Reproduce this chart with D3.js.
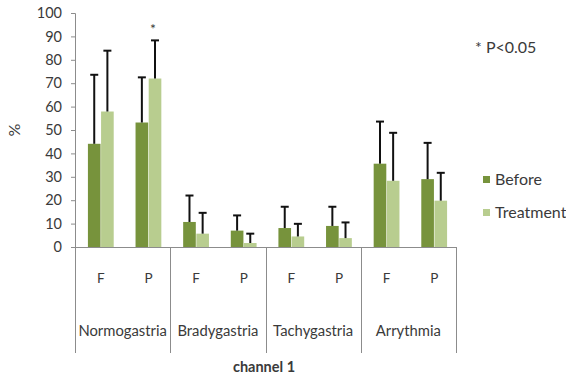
<!DOCTYPE html>
<html>
<head>
<meta charset="utf-8">
<script src="https://cdn.jsdelivr.net/npm/d3@7"></script>
<style>
  html, body { margin: 0; padding: 0; background: #fff; }
  svg { display: block; }
  text { font-family: Lato, "Open Sans", sans-serif; fill: #3a3a3a; }
</style>
</head>
<body>
<svg id="chart" width="566" height="379"></svg>
<script>
const categories = ["Normogastria", "Bradygastria", "Tachygastria", "Arrythmia"];
const subgroups = ["F", "P"];
const seriesNames = ["Before", "Treatment"];
const beforeValues = [44.1, 53.2, 10.7, 7.0, 8.1, 9.0, 35.6, 29.0];
const beforeSD = [29.5, 19.3, 11.3, 6.5, 9.1, 8.2, 18.0, 15.5];
const treatmentValues = [57.9, 72.0, 5.7, 1.7, 4.5, 3.8, 28.3, 19.8];
const treatmentSD = [26.0, 16.3, 8.9, 4.0, 5.4, 6.7, 20.5, 11.9];
const yTicks = [0, 10, 20, 30, 40, 50, 60, 70, 80, 90, 100];
const significant = [{ category: "Normogastria", sub: "P", series: "Treatment" }];
const colors = { Before: "#77933c", Treatment: "#b8cd8f" };

(function () {
const svg = d3.select("#chart");
const mLeft = 75, mRight = 456, mTop = 13, mBottom = 247, sepBottom = 353;

const y = d3.scaleLinear().domain([0, 100]).range([mBottom, mTop]);
const x0 = d3.scaleBand().domain(categories).range([mLeft, mRight]);
const x1 = d3.scaleBand().domain(subgroups).range([0, x0.bandwidth()]);
const x2 = d3.scaleBand().domain(seriesNames).range([0, x1.bandwidth()]).paddingOuter(0.83).paddingInner(0.04);

const rows = [];
categories.forEach((c, ci) => subgroups.forEach((s, si) => {
  const i = ci * 2 + si;
  rows.push({ category: c, sub: s, series: "Before", value: beforeValues[i], sd: beforeSD[i] });
  rows.push({ category: c, sub: s, series: "Treatment", value: treatmentValues[i], sd: treatmentSD[i] });
}));
const bx = d => x0(d.category) + x1(d.sub) + x2(d.series) + 2;

// y axis
const yAxis = d3.axisLeft(y).tickValues(yTicks).tickSize(4).tickPadding(9);
const gy = svg.append("g").attr("transform", `translate(${mLeft},0)`).call(yAxis);
gy.select(".domain").attr("stroke", "#8c8c8c");
gy.selectAll(".tick line").attr("stroke", "#8c8c8c");
gy.selectAll(".tick text").style("font-family", "Lato, sans-serif").style("font-size", "14.5px").attr("fill", "#3a3a3a");

// bars
svg.append("g").selectAll("rect").data(rows).join("rect")
  .attr("x", d => bx(d))
  .attr("y", d => y(d.value))
  .attr("width", x2.bandwidth())
  .attr("height", d => y(0) - y(d.value))
  .attr("fill", d => colors[d.series]);

// error bars
const eg = svg.append("g").attr("stroke", "#111").attr("stroke-width", 2);
rows.forEach(d => {
  const cx = bx(d) + x2.bandwidth() / 2;
  eg.append("line").attr("x1", cx).attr("x2", cx).attr("y1", y(d.value)).attr("y2", y(d.value + d.sd));
  eg.append("line").attr("x1", cx - 4).attr("x2", cx + 4).attr("y1", y(d.value + d.sd)).attr("y2", y(d.value + d.sd));
});

// significance asterisk
significant.forEach(s => {
  const d = rows.find(r => r.category === s.category && r.sub === s.sub && r.series === s.series);
  svg.append("text").attr("x", bx(d) + x2.bandwidth() / 2 - 2).attr("y", y(d.value + d.sd) - 6)
    .attr("text-anchor", "middle").style("font-size", "14px").text("*");
});

// x axis baseline and separators
const ax = svg.append("g").attr("stroke", "#8c8c8c").attr("stroke-width", 1);
ax.append("line").attr("x1", mLeft).attr("x2", mRight).attr("y1", y(0) + 0.5).attr("y2", y(0) + 0.5);
const bounds = categories.map(c => x0(c)).concat([mRight]);
bounds.forEach(b => {
  ax.append("line").attr("x1", Math.round(b) + 0.5).attr("x2", Math.round(b) + 0.5).attr("y1", y(0)).attr("y2", sepBottom);
});

// sub labels
categories.forEach(c => subgroups.forEach(s => {
  svg.append("text").attr("x", x0(c) + x1(s) + x1.bandwidth() / 2 + 2).attr("y", 283)
    .attr("text-anchor", "middle").style("font-size", "13.5px").text(s);
}));
// category labels
categories.forEach(c => {
  svg.append("text").attr("x", x0(c) + x0.bandwidth() / 2).attr("y", 336)
    .attr("text-anchor", "middle").style("font-size", "14.8px").text(c);
});

// axis titles
svg.append("text").attr("x", 264).attr("y", 372).attr("text-anchor", "middle")
  .style("font-size", "14.5px").style("font-weight", "bold").text("channel 1");
svg.append("text").attr("transform", "translate(20,130) rotate(-90)").attr("text-anchor", "middle")
  .style("font-size", "16px").text("%");

// P note
svg.append("text").attr("x", 475).attr("y", 53).style("font-size", "16px").text("* P<0.05");

// legend
const lg = svg.append("g").attr("transform", "translate(483,0)");
const legendY = [180, 213];
seriesNames.forEach((s, i) => {
  lg.append("rect").attr("x", 0).attr("y", legendY[i] - 4).attr("width", 7).attr("height", 7).attr("fill", colors[s]);
  lg.append("text").attr("x", 12).attr("y", legendY[i] + 5).style("font-size", "16px").text(s);
});
})();
</script>
</body>
</html>
